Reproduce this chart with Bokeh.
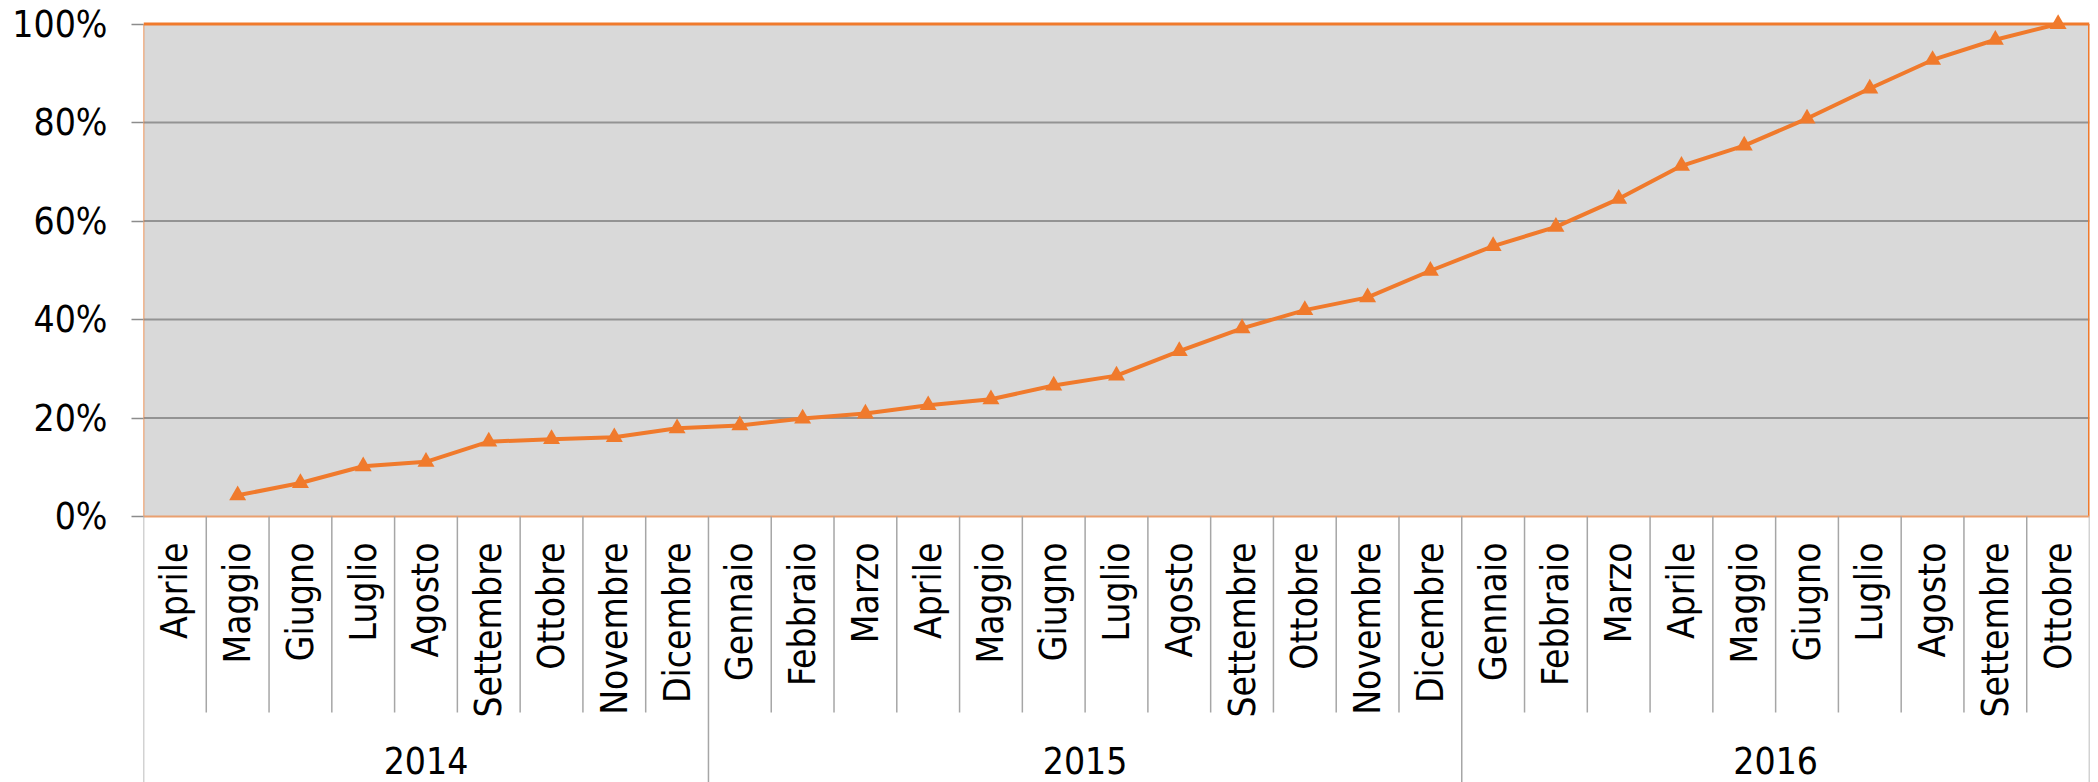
import math
import numpy as np
from bokeh.plotting import figure
from bokeh.models import Range1d, FixedTicker, NumeralTickFormatter
from bokeh.core.properties import value
from bokeh.embed import file_html
from bokeh.resources import INLINE

# ---------------- data ----------------
years = ["2014", "2015", "2016"]
months_2014 = ["Aprile", "Maggio", "Giugno", "Luglio", "Agosto", "Settembre",
               "Ottobre", "Novembre", "Dicembre"]
months_2015 = ["Gennaio", "Febbraio", "Marzo", "Aprile", "Maggio", "Giugno",
               "Luglio", "Agosto", "Settembre", "Ottobre", "Novembre", "Dicembre"]
months_2016 = ["Gennaio", "Febbraio", "Marzo", "Aprile", "Maggio", "Giugno",
               "Luglio", "Agosto", "Settembre", "Ottobre"]
values_2014 = [None, 0.043, 0.068, 0.102, 0.111, 0.152, 0.157, 0.161, 0.179]
values_2015 = [0.185, 0.199, 0.209, 0.226, 0.238, 0.266, 0.286, 0.336, 0.382,
               0.419, 0.445, 0.499]
values_2016 = [0.549, 0.588, 0.645, 0.712, 0.753, 0.808, 0.869, 0.927, 0.968, 1.0]
y_ticks = [0.0, 0.2, 0.4, 0.6, 0.8, 1.0]

# ---------------- derived ----------------
month_groups = [months_2014, months_2015, months_2016]
months = months_2014 + months_2015 + months_2016
vals = [np.nan if v is None else v for v in values_2014 + values_2015 + values_2016]
n = len(months)
xs = [i + 0.5 for i in range(n)]
year_bounds = [0]
for g in month_groups:
    year_bounds.append(year_bounds[-1] + len(g))
year_centers = [(a + b) / 2 for a, b in zip(year_bounds[:-1], year_bounds[1:])]

# ---------------- layout (pixels) ----------------
W, H = 2098, 782
LEFT, RIGHT = 143, 9
ZERO_PX = 516.0        # px (from top) of the 0% line
TOP_PX = 23.5          # px of the 100% line
k = ZERO_PX - TOP_PX   # px per unit
y_top = 1 + TOP_PX / k
y_bot = -(H - ZERO_PX) / k
month_line_bottom = -196.0 / k

FONT = "DejaVu Sans Condensed"
ORANGE = "#F07A2C"
GRID = "#939393"
SEP = "#a6a6a6"

p = figure(width=W, height=H, output_backend="svg", toolbar_location=None,
           x_range=Range1d(0, n), y_range=Range1d(y_bot, y_top),
           x_axis_location=None, min_border_left=LEFT, min_border_right=RIGHT,
           min_border_top=0, min_border_bottom=0)
p.outline_line_color = None
p.background_fill_color = "white"
p.border_fill_color = "white"
p.xgrid.visible = False
p.ygrid.visible = False

yax = p.yaxis[0]
yax.ticker = FixedTicker(ticks=y_ticks)
yax.formatter = NumeralTickFormatter(format="0%")
yax.axis_line_color = None
yax.major_tick_in = 0
yax.major_tick_out = 12
yax.major_tick_line_color = "#8c8c8c"
yax.major_tick_line_width = 1.5
yax.minor_tick_line_color = None
yax.major_label_standoff = 24
yax.major_label_text_font = FONT
yax.major_label_text_font_size = "37px"
yax.major_label_text_color = "black"

# plot area
p.quad(left=0, right=n, bottom=y_ticks[0], top=y_ticks[-1],
       fill_color="#d9d9d9", line_color=None)
# horizontal gridlines
inner = y_ticks[1:-1]
p.segment(x0=[0] * len(inner), x1=[n] * len(inner), y0=inner, y1=inner,
          line_color=GRID, line_width=2)
# plot border
p.segment(x0=[0], x1=[0], y0=[0], y1=[y_ticks[-1]], line_color=ORANGE, line_width=1.5)
p.segment(x0=[0], x1=[n], y0=[y_ticks[-1]], y1=[y_ticks[-1]], line_color=ORANGE, line_width=3)
p.segment(x0=[n], x1=[n], y0=[0], y1=[y_ticks[-1]], line_color=ORANGE, line_width=3)
p.segment(x0=[0], x1=[n], y0=[0], y1=[0], line_color="#e9a070", line_width=2)

# category separators
mb = [i for i in range(n + 1) if i not in year_bounds]
p.segment(x0=mb, x1=mb, y0=[0] * len(mb), y1=[month_line_bottom] * len(mb),
          line_color=SEP, line_width=1.5)
p.segment(x0=year_bounds, x1=year_bounds, y0=[0] * len(year_bounds),
          y1=[y_bot] * len(year_bounds), line_color=SEP, line_width=1.5)

# month labels
p.text(x=xs, y=[0] * n, text=months, angle=math.pi / 2, y_offset=26,
       text_align="right", text_baseline="middle", text_font=value(FONT),
       text_font_size="37px", text_color="black")
# year labels
p.text(x=year_centers, y=[0] * len(years), text=years, y_offset=244,
       text_align="center", text_baseline="middle", text_font=value(FONT),
       text_font_size="37px", text_color="black")

# series
p.line(xs, vals, line_color=ORANGE, line_width=4)
p.scatter(xs, vals, marker="triangle", size=17, fill_color=ORANGE, line_color=None)

open("out.html", "w").write(file_html(p, INLINE))
